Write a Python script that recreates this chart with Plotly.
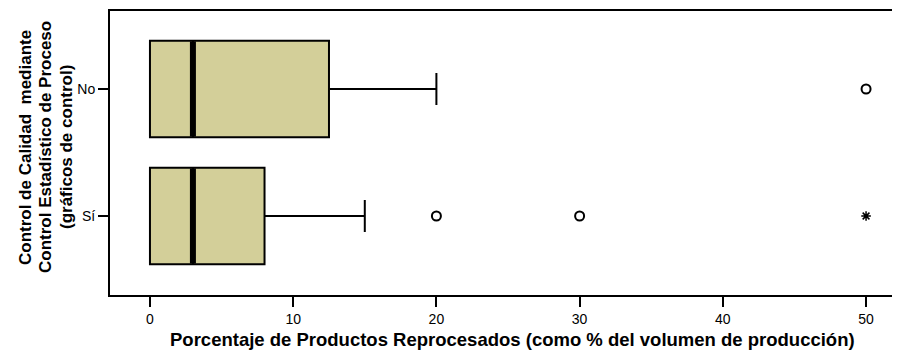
import plotly.graph_objects as go

# groups, bottom to top
groups = ["Sí", "No"]
q1 = [0, 0]
medians = [3, 3]
q3 = [8, 12.5]
lower_whisker = [0, 0]
upper_whisker = [15, 20]
outliers = {"Sí": [20, 30], "No": [50]}
extremes = {"Sí": [50], "No": []}

x_ticks = [0, 10, 20, 30, 40, 50]

x_title = "Porcentaje de Productos Reprocesados (como % del volumen de producción)"
y_title_lines = ["Control de Calidad\u00a0 mediante",
                 "Control Estadístico de Proceso",
                 "(gráficos de control)"]

box_fill = "#D3CF99"
font_family = "Liberation Sans, Arial, sans-serif"
pos = list(range(len(groups)))

fig = go.Figure()

fig.add_trace(go.Box(
    y=pos,
    q1=q1, median=medians, q3=q3,
    lowerfence=lower_whisker, upperfence=upper_whisker,
    orientation="h",
    fillcolor=box_fill,
    line=dict(color="black", width=2),
    width=0.76,
    whiskerwidth=0.33,
    boxpoints=False,
    hoverinfo="skip",
    showlegend=False,
))

# thick median bars
for p, m in zip(pos, medians):
    fig.add_trace(go.Scatter(
        x=[m, m], y=[p - 0.375, p + 0.375],
        mode="lines", line=dict(color="black", width=6),
        showlegend=False, hoverinfo="skip",
    ))

# outliers (circles) and extremes (asterisks)
for p, g in zip(pos, groups):
    if outliers[g]:
        fig.add_trace(go.Scatter(
            x=outliers[g], y=[p] * len(outliers[g]), mode="markers",
            marker=dict(symbol="circle-open", size=9, color="black",
                        line=dict(color="black", width=2)),
            showlegend=False,
        ))
    if extremes[g]:
        fig.add_trace(go.Scatter(
            x=extremes[g], y=[p] * len(extremes[g]), mode="markers",
            marker=dict(symbol="asterisk-open", size=8, color="black",
                        line=dict(color="black", width=1.5)),
            showlegend=False,
        ))

# the page body adds an 8px margin, so the figure is made 8px smaller
# on each side and the margins are shifted to keep the plot area in place
fig.update_layout(
    width=892, height=345,
    margin=dict(l=102, r=0, t=3, b=58),
    plot_bgcolor="white", paper_bgcolor="white",
    font=dict(family=font_family, color="black", size=14),
)

fig.update_xaxes(
    range=[-2.79, 52.37],
    tickvals=x_ticks,
    ticks="outside", ticklen=10, tickwidth=2, tickcolor="black",
    showline=True, linecolor="black", linewidth=2, mirror=True,
    showgrid=False, zeroline=False, automargin=False,
    tickfont=dict(size=14),
)

fig.update_yaxes(
    range=[-0.622, 1.614],
    tickvals=pos, ticktext=groups,
    ticks="outside", ticklen=10, tickwidth=1.5, tickcolor="black",
    showline=True, linecolor="black", linewidth=2, mirror=False,
    showgrid=False, zeroline=False, automargin=False,
    tickfont=dict(size=14),
)

# axis titles as annotations so the lines sit where the reference has them
fig.add_annotation(
    text="<b>" + x_title + "</b>", xref="paper", yref="paper",
    x=0.509, y=-0.158, xanchor="center", yanchor="middle",
    showarrow=False, font=dict(size=18.5, family=font_family),
)
for xp, line in zip([-0.1076, -0.0823, -0.0557], y_title_lines):
    fig.add_annotation(
        text="<b>" + line + "</b>", xref="paper", yref="paper",
        x=xp, y=0.521, xanchor="center", yanchor="middle", textangle=-90,
        showarrow=False, font=dict(size=17, family=font_family),
    )

fig.write_html("out.html")
